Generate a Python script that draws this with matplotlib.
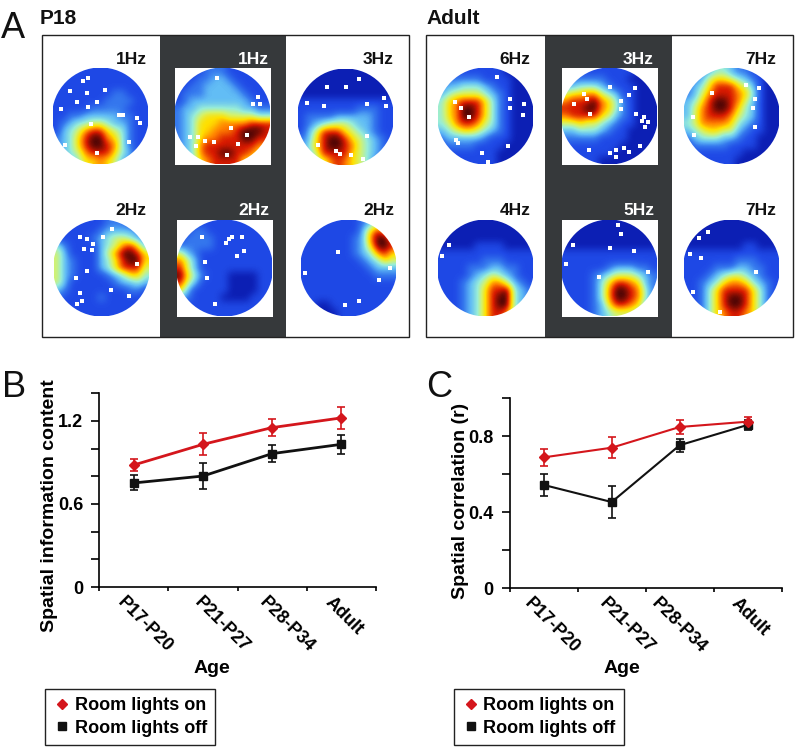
import matplotlib
matplotlib.use("Agg")
import matplotlib.pyplot as plt
import numpy as np
from matplotlib.colors import LinearSegmentedColormap
from matplotlib.lines import Line2D
from matplotlib.patches import Circle, Rectangle

plt.rcParams["font.family"] = ["Liberation Sans", "DejaVu Sans"]

RED = "#d4161c"
BLACK = "#111111"
DARK = "#36393b"

AGES = ["P17-P20", "P21-P27", "P28-P34", "Adult"]

# panel B
info_on = [0.882, 1.031, 1.152, 1.222]
info_on_err = [0.041, 0.080, 0.060, 0.082]
info_off = [0.752, 0.802, 0.964, 1.031]
info_off_err = [0.054, 0.095, 0.063, 0.067]

# panel C
corr_on = [0.689, 0.740, 0.849, 0.877]
corr_on_err = [0.045, 0.054, 0.035, 0.025]
corr_off = [0.544, 0.454, 0.753, 0.860]
corr_off_err = [0.059, 0.085, 0.035, 0.025]

# rate maps read by eye on a coarse 13x13 grid, colour level 0-9
p18_tl = ["1111111111111", "1111111111111", "1111111111111", "1111111122111", "1111111222211",
          "1111122222111", "1122333332211", "1234455433211", "1345788654211", "2346899764211",
          "2346899874211", "2345788864311", "2334667653211"]
p18_tm = ["1111222111111", "1112233211111", "1122333321111", "1222333332111", "1233333333211",
          "2334444443322", "2345666555544", "2346667777888", "2346677789998", "2346778889988",
          "2347888888877", "2347889988764", "2246788886643"]
p18_tr = ["0000000000000", "0000000000000", "0000000000000", "0000000000000", "1111111111111",
          "1111111122211", "1222233333211", "1234555433211", "1358886543211", "2368998654321",
          "2468998754321", "2358888654321", "2345787654211"]
p18_bl = ["1111111222111", "1111112333321", "1111123455432", "4211113457863", "5311113579986",
          "5321113468996", "5321113468885", "5321111234664", "5311111123343", "3211111111221",
          "2111112111111", "1111111111111", "1111111111111"]
p18_bm = ["1111111111111", "1122111111111", "1222211111111", "2222211111111", "5321111111111",
          "7531111111111", "8531111111111", "9642111000011", "8531111000011", "6311111000011",
          "3211110000111", "1111111111111", "1111111111111"]
p18_br = ["1111111123521", "1111111136874", "1111111237997", "1111111236998", "1111111234786",
          "1111111123465", "1111111112333", "1111111111222", "1111111111111", "1111111111111",
          "1111111111111", "1100111111111", "1100011111111"]
adult_tl = ["1111111110000", "1222221111000", "2334443211000", "3455554321000", "4678886421000",
            "4679986421000", "4679986421000", "4578875421000", "3456654321000", "2333332111000",
            "1222211110000", "1111111100000", "1111111100000"]
adult_tm = ["1111111111000", "2222221110000", "3344432111000", "5667754311000", "7888976421000",
            "8889976421000", "7888865321000", "5565543211000", "3344432110000", "2222211110000",
            "1111111100000", "1111111000000", "1111100000000"]
adult_tr = ["1123443221100", "1235665432100", "2346888653100", "2357888764100", "3468998753100",
            "3578998643100", "3578887543100", "4577776432100", "3456655321100", "2344433211000",
            "1222221111000", "1111111100000", "1111111000000"]
adult_bl = ["0000000000000", "0000000000000", "0000000000000", "0000011110000", "1111111111111",
            "1111112221111", "1111222332211", "1111234543211", "1112345775321", "1112346889432",
            "1112346899432", "1112346899432", "1112346887431"]
adult_bm = ["0000000000000", "0000000000000", "0000000000000", "0000000000000", "1111111111111",
            "1111111111111", "1111112333221", "1111234555432", "1111246887632", "1111247998742",
            "1111247998742", "1111236887632", "1111234555432"]
adult_br = ["0000000000000", "0000000000000", "0000000000000", "0000000011000", "1111111111111",
            "1111111222111", "1111222332211", "1112345543211", "1123467764321", "1124688886421",
            "1124689986421", "1124689986421", "1124678876421"]

# unvisited (white) bins, percent of the map box
holes_p18_tl = [(37, 10), (32, 14), (18, 24), (55, 23), (36, 26), (25, 35), (46, 35), (37, 41), (8, 43),
                (69, 49), (74, 49), (88, 52), (92, 57), (40, 58), (13, 80), (80, 77), (46, 89)]
holes_p18_tm = [(44, 10), (87, 30), (82, 38), (89, 38), (59, 63), (76, 70), (16, 72), (24, 72), (32, 76),
                (41, 77), (66, 79), (55, 91), (22, 81)]
holes_p18_tr = [(64, 10), (30, 19), (50, 19), (90, 30), (9, 35), (27, 39), (73, 36), (93, 39), (73, 70),
                (21, 79), (40, 85), (44, 89), (56, 90), (68, 94)]
holes_p18_bl = [(61, 9), (27, 18), (52, 18), (35, 20), (41, 25), (32, 30), (40, 31), (87, 46), (35, 53),
                (23, 60), (60, 73), (79, 79), (27, 76), (29, 84), (24, 87)]
holes_p18_bm = [(55, 20), (52, 24), (58, 18), (68, 18), (26, 18), (63, 38), (29, 44), (32, 60), (40, 87), (70, 32)]
holes_p18_br = [(39, 33), (94, 50), (4, 55), (82, 63), (61, 84), (46, 89)]
holes_adult_tl = [(62, 9), (76, 32), (90, 37), (76, 42), (89, 49), (18, 35), (24, 42), (33, 51), (19, 75),
                  (21, 78), (74, 81), (46, 89), (53, 98)]
holes_adult_tm = [(51, 20), (23, 27), (26, 32), (13, 38), (77, 21), (71, 28), (62, 34), (62, 43), (78, 48),
                  (86, 51), (84, 55), (90, 56), (87, 61), (29, 48), (82, 81), (65, 83), (70, 87), (57, 85),
                  (50, 89), (28, 85), (57, 93)]
holes_adult_tr = [(79, 21), (65, 18), (75, 32), (73, 42), (75, 61), (29, 26), (9, 51), (11, 70)]
holes_adult_bl = [(12, 26), (4, 37)]
holes_adult_bm = [(59, 5), (62, 15), (51, 29), (76, 32), (12, 26), (4, 46), (39, 59), (91, 54)]
holes_adult_br = [(16, 19), (25, 12), (6, 35), (18, 40), (9, 75), (76, 54), (38, 96)]

jet = LinearSegmentedColormap.from_list("ratemap", [
    "#0c1fb4", "#1f49e6", "#3578ee", "#62bdf5", "#98edd8",
    "#d5f26a", "#ffe000", "#ff8000", "#d81a00", "#4a0505"])


def draw_map(ax, grid, holes, x0, y0, w=95, h=96):
    """One rate map, clipped to the round arena."""
    z = np.array([[int(c) for c in row] for row in grid], dtype=float)
    im = ax.imshow(z, cmap=jet, vmin=0, vmax=9, extent=(x0, x0 + w, y0 + h, y0),
                   interpolation="bicubic", aspect="auto", zorder=3)
    im.set_clip_path(Circle((x0 + w / 2, y0 + h / 2), w / 2 + 1, transform=ax.transData))
    xs = [x0 + p[0] * w / 100 for p in holes]
    ys = [y0 + p[1] * h / 100 for p in holes]
    ax.scatter(xs, ys, marker="s", s=6, c="white", linewidths=0, zorder=4)


def draw_group(ax, left, band_left, label, title_x, label_rights, maps):
    ax.add_patch(Rectangle((band_left, 35), 126.5, 302, fc=DARK, ec="none", zorder=1))
    ax.add_patch(Rectangle((left, 35), 367, 302, fc="none", ec="#222222", lw=1.0, zorder=5))
    ax.text(title_x, 24, label, fontsize=15, fontweight="bold", color=BLACK, ha="left", va="baseline")
    for grid, holes, x0, y0, dark, hz, col, base in maps:
        if dark:
            ax.add_patch(Rectangle((x0, y0), 96, 97, fc="white", ec="none", zorder=2))
        draw_map(ax, grid, holes, x0, y0)
        ax.text(label_rights[col], base, hz, fontsize=12.5, fontweight="bold",
                color="white" if dark else BLACK, ha="right", va="baseline", zorder=6)


def draw_lines(ax, on, on_err, off, off_err, lw, label_off, top, majors, minors, ylabel, ylabel_xy, age_x):
    x = np.arange(4) + 0.5
    ax.errorbar(x, off, yerr=off_err, color=BLACK, lw=lw, marker="s", ms=5.5, capsize=3, capthick=1.2, elinewidth=1.2)
    ax.errorbar(x, on, yerr=on_err, color=RED, lw=lw, marker="D", ms=5, capsize=3, capthick=1.2, elinewidth=1.2)
    ax.set_xlim(0, 4)
    ax.set_ylim(0, top)
    for s in ["top", "right"]:
        ax.spines[s].set_visible(False)
    for s in ["left", "bottom"]:
        ax.spines[s].set_linewidth(1.2)
    ax.set_xticks(np.arange(5))
    ax.set_xticklabels([])
    ax.tick_params(axis="x", length=3, width=1.2)
    ax.set_yticks(majors)
    ax.set_yticklabels([f"{m:g}" for m in majors], fontsize=13, fontweight="bold")
    ax.set_yticks(minors, minor=True)
    ax.tick_params(axis="y", which="both", length=6, width=1.2, pad=5.5)
    for xi, lab, dx in zip(x, AGES, label_off):
        ax.annotate(lab, xy=(xi, 0), xycoords=("data", "axes fraction"), xytext=(dx, -7),
                    textcoords="offset pixels", rotation=-45, rotation_mode="anchor",
                    ha="left", va="top", fontsize=13, fontweight="bold", annotation_clip=False)
    ax.set_xlabel("Age", fontsize=14, fontweight="bold")
    ax.xaxis.set_label_coords(age_x, -0.377)
    ax.set_ylabel(ylabel, fontsize=14, fontweight="bold")
    ax.yaxis.set_label_coords(*ylabel_xy)


fig = plt.figure(figsize=(7.96, 7.47), dpi=100)

# panel A drawn in image pixels
ax_a = fig.add_axes([0, 0, 1, 1])
draw_group(ax_a, 42, 159.5, "P18", 40, [146.7, 269, 394], [
    (p18_tl, holes_p18_tl, 53, 68, False, "1Hz", 0, 64),
    (p18_tm, holes_p18_tm, 175, 68, True, "1Hz", 1, 64),
    (p18_tr, holes_p18_tr, 298, 69, False, "3Hz", 2, 64),
    (p18_bl, holes_p18_bl, 54, 220, False, "2Hz", 0, 215),
    (p18_bm, holes_p18_bm, 177, 220, True, "2Hz", 1, 215),
    (p18_br, holes_p18_br, 301, 220, False, "2Hz", 2, 215),
])
draw_group(ax_a, 426, 545, "Adult", 426, [530.7, 654, 776], [
    (adult_tl, holes_adult_tl, 438, 68, False, "6Hz", 0, 64),
    (adult_tm, holes_adult_tm, 562, 68, True, "3Hz", 1, 64),
    (adult_tr, holes_adult_tr, 684, 68, False, "7Hz", 2, 64),
    (adult_bl, holes_adult_bl, 438, 220, False, "4Hz", 0, 215),
    (adult_bm, holes_adult_bm, 562, 220, True, "5Hz", 1, 215),
    (adult_br, holes_adult_br, 684, 220, False, "7Hz", 2, 215),
])
ax_a.set_xlim(0, 796)
ax_a.set_ylim(747, 0)
ax_a.axis("off")
for letter, lx, ly in [("A", 1, 38), ("B", 2, 397), ("C", 426, 397)]:
    ax_a.text(lx, ly, letter, fontsize=26, color=BLACK, ha="left", va="baseline")

ax_b = fig.add_axes([99.3 / 796, 160 / 747, 276.4 / 796, 193.7 / 747])
draw_lines(ax_b, info_on, info_on_err, info_off, info_off_err, 2.0, [-8, 0, -4, -7],
           1.4, [0, 0.6, 1.2], [0.2, 0.4, 0.8, 1.0, 1.4], "Spatial information content", (-0.15, 0.42), 0.408)

ax_c = fig.add_axes([509.7 / 796, 158.7 / 747, 272 / 796, 190 / 747])
draw_lines(ax_c, corr_on, corr_on_err, corr_off, corr_off_err, 1.5, [-11, -4, -20, -8],
           1.0, [0, 0.4, 0.8], [0.2, 0.6, 1.0], "Spatial correlation (r)", (-0.15, 0.46), 0.413)

handles = [Line2D([], [], color=RED, marker="D", ls="none", ms=5.5),
           Line2D([], [], color=BLACK, marker="s", ls="none", ms=5.5)]
for lx in [45 / 796, 453.5 / 796]:
    fig.legend(handles, ["Room lights on", "Room lights off"], loc="upper left", bbox_to_anchor=(lx, 58 / 747),
               borderaxespad=0, fancybox=False, edgecolor="#222222", framealpha=1, handlelength=1.0,
               prop={"size": 13, "weight": "bold"}, handletextpad=0.2, labelspacing=0.3, borderpad=0.45)

fig.savefig("out.png", dpi=100)
